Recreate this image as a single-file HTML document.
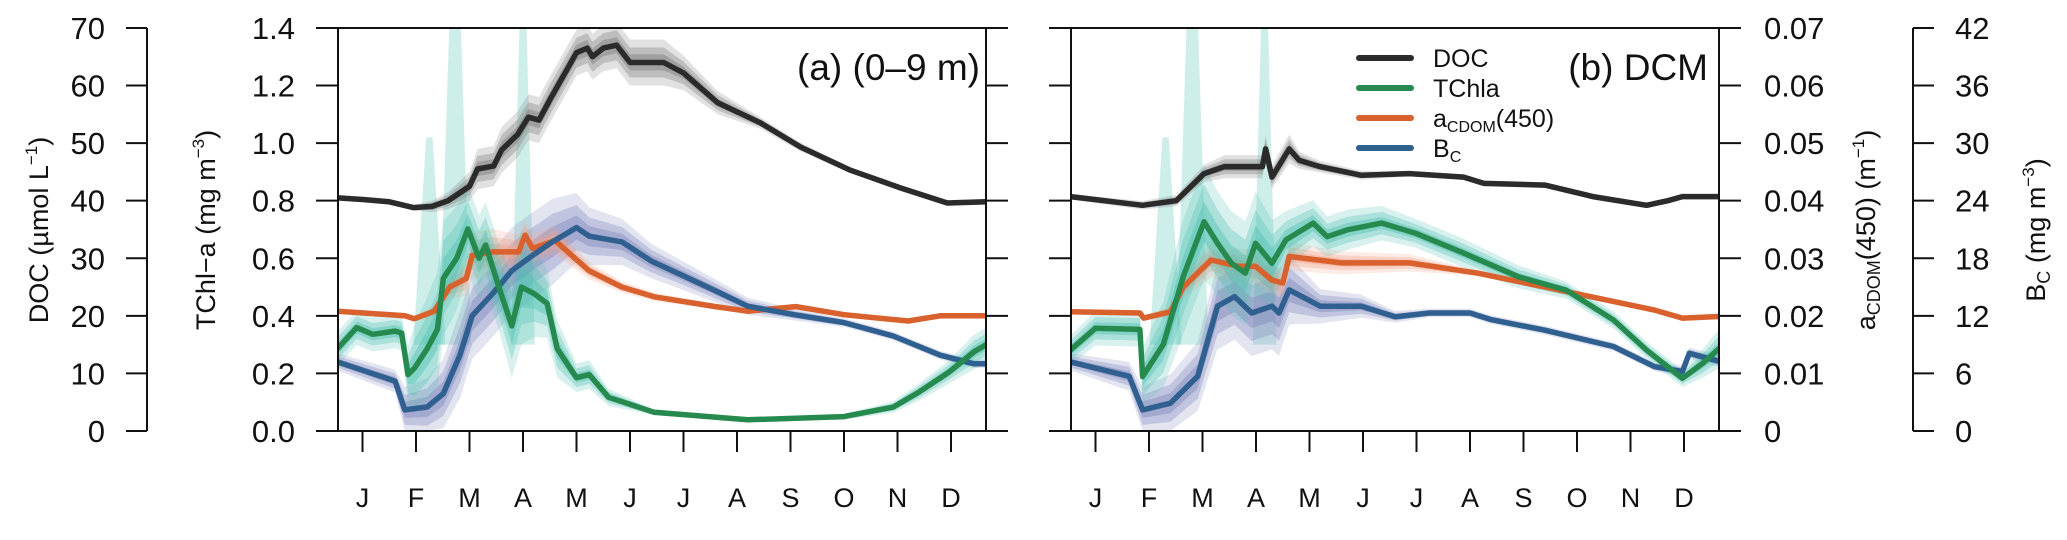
<!DOCTYPE html>
<html><head><meta charset="utf-8"><style>
html,body{margin:0;padding:0;background:#fff;}
svg{display:block;font-family:"Liberation Sans",sans-serif;}
</style></head><body>
<svg id="chart" width="2067" height="540" viewBox="0 0 2067 540"></svg>
<script>
// ---------- data (x in months: 0 = January tick) ----------
const monthLabels = ["J","F","M","A","M","J","J","A","S","O","N","D"];
const docTicks = [0,10,20,30,40,50,60,70];
const chlTicks = ["0.0","0.2","0.4","0.6","0.8","1.0","1.2","1.4"];
const cdomTicks = ["0","0.01","0.02","0.03","0.04","0.05","0.06","0.07"];
const bcTicks = [0,6,12,18,24,30,36,42];

// Panel (a) 0-9 m
const aDocX = [-0.47,0,0.5,0.95,1.3,1.6,2.0,2.15,2.45,2.6,2.9,3.1,3.3,3.5,4.0,4.2,4.3,4.5,4.75,5.0,5.63,6.0,6.64,7.44,8.19,9.12,10.06,10.93,11.66];
const aDoc = [40.5,40.2,39.8,38.8,39.0,40,42.5,45.5,46,48.8,51.5,54.5,54,57.5,65.7,66.5,65,66.5,67,64,64,62.2,57,53.5,49.3,45.3,42.2,39.6,39.8];
const aDocSpread = [0.01,0.01,0.01,0.01,0.02,0.03,0.05,0.07,0.07,0.08,0.08,0.08,0.08,0.08,0.08,0.08,0.08,0.08,0.08,0.08,0.08,0.06,0.04,0.02,0.015,0.01,0.01,0.01,0.01];

const aChlX = [-0.47,-0.11,0.19,0.61,0.73,0.85,0.97,1.21,1.40,1.51,1.76,1.97,2.18,2.30,2.55,2.79,2.97,3.21,3.45,3.64,4.0,4.24,4.6,5.45,7.2,9.0,9.92,10.4,10.95,11.43,11.66];
const aChl = [0.286,0.359,0.336,0.347,0.340,0.196,0.218,0.286,0.353,0.53,0.60,0.702,0.60,0.646,0.50,0.365,0.50,0.477,0.443,0.286,0.185,0.196,0.117,0.065,0.039,0.05,0.083,0.135,0.203,0.275,0.30];
const aChlSpread = [0.06,0.06,0.06,0.06,0.06,0.1,0.15,0.18,0.2,0.2,0.18,0.15,0.15,0.15,0.15,0.18,0.2,0.15,0.12,0.1,0.05,0.05,0.03,0.01,0.005,0.01,0.02,0.03,0.04,0.06,0.06];

const aCdomX = [-0.47,0.79,0.97,1.34,1.63,1.94,2.05,2.43,2.92,3.04,3.18,3.6,3.91,4.24,4.85,5.45,6.6,7.2,8.1,9.0,10.2,10.8,11.43,11.66];
const aCdom = [0.0208,0.0200,0.0195,0.0208,0.0250,0.0265,0.0305,0.0311,0.0311,0.0340,0.0317,0.0331,0.0305,0.0278,0.0250,0.0233,0.0216,0.0208,0.0216,0.0202,0.0191,0.0200,0.0200,0.0200];
const aCdomSpread = [0.01,0.01,0.01,0.02,0.04,0.06,0.08,0.08,0.06,0.05,0.05,0.05,0.04,0.03,0.02,0.015,0.01,0.01,0.01,0.01,0.01,0.01,0.01,0.01];

const aBcX = [-0.47,0.61,0.79,1.21,1.51,1.82,2.05,2.43,2.79,3.18,3.55,4.0,4.24,4.85,5.4,5.95,6.6,7.2,8.1,9.0,9.92,10.8,11.43,11.66];
const aBc = [7.2,5.2,2.2,2.5,3.9,7.9,12.0,14.3,16.7,18.3,19.7,21.2,20.3,19.7,17.7,16.3,14.6,13.0,12.1,11.3,9.9,7.9,7.0,7.0];
const aBcSpread = [0.03,0.04,0.08,0.1,0.12,0.15,0.15,0.15,0.15,0.15,0.15,0.12,0.1,0.08,0.06,0.05,0.04,0.03,0.02,0.015,0.015,0.015,0.015,0.015];

// Panel (b) DCM
const bDocX = [-0.47,0.88,1.51,2.03,2.41,3.12,3.18,3.3,3.62,3.81,4.2,4.97,5.87,6.88,7.26,8.4,9.3,10.3,10.7,10.97,11.7];
const bDoc = [40.7,39.2,40,44.7,45.9,45.9,49.0,44.1,49.0,47.0,45.9,44.4,44.7,44.1,43.0,42.7,40.7,39.2,40,40.7,40.7];
const bDocSpread = [0.01,0.015,0.02,0.03,0.04,0.04,0.05,0.04,0.05,0.03,0.02,0.015,0.01,0.01,0.01,0.01,0.01,0.01,0.01,0.01,0.01];

const bChlX = [-0.47,0,0.83,0.88,1.27,1.64,2.03,2.28,2.54,2.8,2.99,3.3,3.56,4.07,4.33,4.71,5.35,5.98,6.88,7.9,8.8,9.68,10.3,10.97,11.35,11.7];
const bChl = [0.281,0.357,0.353,0.189,0.301,0.536,0.727,0.652,0.583,0.548,0.652,0.583,0.664,0.722,0.675,0.699,0.722,0.687,0.618,0.536,0.489,0.386,0.281,0.183,0.235,0.293];
const bChlSpread = [0.05,0.06,0.06,0.1,0.15,0.2,0.2,0.18,0.18,0.18,0.18,0.15,0.1,0.08,0.07,0.07,0.06,0.05,0.05,0.04,0.03,0.03,0.03,0.03,0.05,0.07];

const bCdomX = [-0.47,0.83,0.9,1.4,1.64,2.16,2.67,2.99,3.3,3.5,3.62,4.6,5.87,7.15,8.4,9.68,10.45,10.97,11.7];
const bCdom = [0.0207,0.0205,0.0196,0.0207,0.0250,0.0297,0.0286,0.0286,0.0262,0.0257,0.0303,0.0292,0.0292,0.0274,0.0250,0.0225,0.0210,0.0196,0.0199];
const bCdomSpread = [0.01,0.01,0.01,0.02,0.04,0.06,0.06,0.06,0.05,0.05,0.05,0.04,0.03,0.01,0.01,0.01,0.01,0.01,0.01];

const bBcX = [-0.47,0.63,0.88,1.4,1.91,2.28,2.6,2.92,3.3,3.43,3.62,4.2,4.97,5.6,6.24,7.0,7.4,8.4,9.68,10.45,10.97,11.1,11.7];
const bBc = [7.2,5.7,2.2,2.9,5.7,13.0,14.0,12.3,13.0,12.3,14.7,13.0,13.0,11.9,12.3,12.3,11.6,10.5,8.8,6.7,6.2,8.1,7.2];
const bBcSpread = [0.03,0.05,0.08,0.1,0.12,0.15,0.15,0.15,0.15,0.15,0.12,0.06,0.04,0.02,0.015,0.015,0.015,0.015,0.015,0.015,0.02,0.02,0.02];

// teal TChl-a uncertainty spikes: [centre month, top value, half-width]
const aSpikeX = [1.25,1.73,3.0];
const aSpikeTop = [1.02,1.45,1.45];
const bSpikeX = [1.31,1.81,3.16];
const bSpikeTop = [1.02,1.45,1.45];
const spikeW = [0.3,0.3,0.22];
const spikeTopW = [0.06,0.1,0.06];

// ---------- drawing ----------
const NS = "http://www.w3.org/2000/svg";
const svg = document.getElementById("chart");
const Y0 = 431, YPX = 287.9, MON = 53.5;
function yEq(v){ return Y0 - v*YPX; }
function yDoc(v){ return yEq(v/50); }
function yBc(v){ return yEq(v/30); }
function mk(tag, attrs, parent){
  const e = document.createElementNS(NS, tag);
  for (const k in attrs) e.setAttribute(k, attrs[k]);
  (parent||svg).appendChild(e);
  return e;
}
function txt(s, x, y, size, anchor, parent){
  const t = mk("text", {x:x, y:y, "font-size":size, "text-anchor":anchor||"middle", fill:"#111"}, parent);
  t.textContent = s;
  return t;
}

function drawPanel(x0, x1, P, name){
  const g = mk("g", {});
  
  
  const xs = m => x0 + 24.5 + m*MON;
  const clipId = "clip-" + name;
  const cp = mk("clipPath", {id: clipId}, g);
  mk("rect", {x:x0, y:28, width:x1-x0, height:Y0-28}, cp);
  const plot = mk("g", {"clip-path":"url(#"+clipId+")"}, g);

  function band(X, V, S, ys, fill, nm){
    [1, 0.65, 0.35].forEach((f, i) => {
      let d = "";
      X.forEach((m, j) => { d += (j?"L":"M") + xs(m).toFixed(1) + "," + (yEq(ys(V[j]) + S[j]*f)).toFixed(1); });
      for (let j = X.length-1; j >= 0; j--) d += "L" + xs(X[j]).toFixed(1) + "," + (yEq(Math.max(0, ys(V[j]) - S[j]*f))).toFixed(1);
      const p = mk("path", {d: d+"Z", fill: fill, "fill-opacity": 0.22+0.1*i}, plot);
      
      
    });
  }
  function line(X, V, ys, color, nm){
    let d = "";
    X.forEach((m, j) => { d += (j?"L":"M") + xs(m).toFixed(1) + "," + yEq(ys(V[j])).toFixed(1); });
    const p = mk("path", {d:d, fill:"none", stroke:color, "stroke-width":5.5, "stroke-linejoin":"round"}, plot);
    
    
  }
  const eqDoc = v => v/50, eqChl = v => v, eqCdom = v => v/0.05, eqBc = v => v/30;

  P.spX.forEach((m, i) => {
    const top = P.spTop[i], w = spikeW[i], tw = spikeTopW[i];
    const d = "M"+xs(m-w)+","+yEq(0.3)+"L"+xs(m-tw)+","+yEq(top)+"L"+xs(m+tw)+","+yEq(top)+"L"+xs(m+w)+","+yEq(0.3)+"Z";
    const p = mk("path", {d:d, fill:"#5cc7b8", "fill-opacity":0.3}, plot);
    
    
  });
  band(P.docX, P.doc, P.docS, eqDoc, "#777", "doc");
  band(P.bcX, P.bc, P.bcS, eqBc, "#7b83bb", "bc");
  band(P.cdX, P.cd, P.cdS, eqCdom, "#f4a38a", "cdom");
  band(P.chX, P.ch, P.chS, eqChl, "#4fc0b0", "tchla");
  line(P.docX, P.doc, eqDoc, "#2b2b2b", "doc");
  line(P.cdX, P.cd, eqCdom, "#d8612d", "cdom");
  line(P.bcX, P.bc, eqBc, "#2f6090", "bc");
  line(P.chX, P.ch, eqChl, "#268a4f", "tchla");

  const fr = mk("rect", {x:x0, y:28, width:x1-x0, height:Y0-28, fill:"none", stroke:"#111", "stroke-width":2}, g);
  
  
  for (let i = 0; i < 8; i++){
    const y = yEq(i*0.2);
    mk("line", {x1:x0-22, x2:x0, y1:y, y2:y, stroke:"#111", "stroke-width":2}, g);
    mk("line", {x1:x1, x2:x1+22, y1:y, y2:y, stroke:"#111", "stroke-width":2}, g);
  }
  monthLabels.forEach((lab, i) => {
    const x = xs(i);
    mk("line", {x1:x, x2:x, y1:Y0, y2:Y0+21, stroke:"#111", "stroke-width":2}, g);
    const t = txt(lab, x, 507, 27, "middle", g);
    
    
  });
}

drawPanel(338, 986, {docX:aDocX, doc:aDoc, docS:aDocSpread, chX:aChlX, ch:aChl, chS:aChlSpread,
  cdX:aCdomX, cd:aCdom, cdS:aCdomSpread, bcX:aBcX, bc:aBc, bcS:aBcSpread, spX:aSpikeX, spTop:aSpikeTop}, "panel-a");
drawPanel(1071, 1719, {docX:bDocX, doc:bDoc, docS:bDocSpread, chX:bChlX, ch:bChl, chS:bChlSpread,
  cdX:bCdomX, cd:bCdom, cdS:bCdomSpread, bcX:bBcX, bc:bBc, bcS:bBcSpread, spX:bSpikeX, spTop:bSpikeTop}, "panel-b");

mk("line", {x1:147, x2:147, y1:yDoc(0), y2:yDoc(70), stroke:"#111", "stroke-width":2});
docTicks.forEach(v => {
  const y = yDoc(v);
  mk("line", {x1:126, x2:147, y1:y, y2:y, stroke:"#111", "stroke-width":2});
  const t = txt(String(v), 105, y+11, 31, "end");
  
  
});
chlTicks.forEach((s, i) => {
  const t = txt(s, 295, yEq(i*0.2)+11, 31, "end");
  
  
});
cdomTicks.forEach((s, i) => {
  const t = txt(s, 1764, yEq(i*0.2)+11, 31, "start");
  
  
});
mk("line", {x1:1913, x2:1913, y1:yBc(0), y2:yBc(42), stroke:"#111", "stroke-width":2});
bcTicks.forEach(v => {
  const y = yBc(v);
  mk("line", {x1:1913, x2:1934, y1:y, y2:y, stroke:"#111", "stroke-width":2});
  const t = txt(String(v), 1955, y+11, 31, "start");
  
  
});
</script>
<script>
(function(){
const svg = document.getElementById("chart");
const NS = "http://www.w3.org/2000/svg";
function add(html){ const g = document.createElementNS(NS,"g"); g.innerHTML = html; svg.appendChild(g); return g; }
add('<text transform="translate(48,230) rotate(-90)" font-size="27" text-anchor="middle" fill="#111">DOC (µmol L<tspan font-size="17" dy="-11">−1</tspan><tspan dy="11">)</tspan></text>');
add('<text transform="translate(215,230) rotate(-90)" font-size="27" text-anchor="middle" fill="#111">TChl−a (mg m<tspan font-size="17" dy="-11">−3</tspan><tspan dy="11">)</tspan></text>');
add('<text transform="translate(1875,230) rotate(-90)" font-size="27" text-anchor="middle" fill="#111">a<tspan font-size="18" dy="5">CDOM</tspan><tspan dy="-5">(450) (m</tspan><tspan font-size="17" dy="-11">−1</tspan><tspan dy="11">)</tspan></text>');
add('<text transform="translate(2045,230) rotate(-90)" font-size="27" text-anchor="middle" fill="#111">B<tspan font-size="18" dy="5">C</tspan><tspan dy="-5"> (mg m</tspan><tspan font-size="17" dy="-11">−3</tspan><tspan dy="11">)</tspan></text>');
add('<text x="980" y="80" font-size="37" text-anchor="end" fill="#111">(a) (0–9 m)</text>');
add('<text x="1708" y="80" font-size="37" text-anchor="end" fill="#111">(b) DCM</text>');
add('<g>' +
 '<line x1="1359" x2="1411" y1="58" y2="58" stroke="#2b2b2b" stroke-width="6" stroke-linecap="round"/><text x="1433" y="67" font-size="25" fill="#111">DOC</text>' +
 '<line x1="1359" x2="1411" y1="88" y2="88" stroke="#268a4f" stroke-width="6" stroke-linecap="round"/><text x="1433" y="97" font-size="25" fill="#111">TChla</text>' +
 '<line x1="1359" x2="1411" y1="118" y2="118" stroke="#d8612d" stroke-width="6" stroke-linecap="round"/><text x="1433" y="127" font-size="25" fill="#111">a<tspan font-size="16" dy="5">CDOM</tspan><tspan dy="-5">(450)</tspan></text>' +
 '<line x1="1359" x2="1411" y1="148" y2="148" stroke="#2f6090" stroke-width="6" stroke-linecap="round"/><text x="1433" y="157" font-size="25" fill="#111">B<tspan font-size="16" dy="5">C</tspan></text>' +
 '</g>');
})();
</script>
</body></html>
